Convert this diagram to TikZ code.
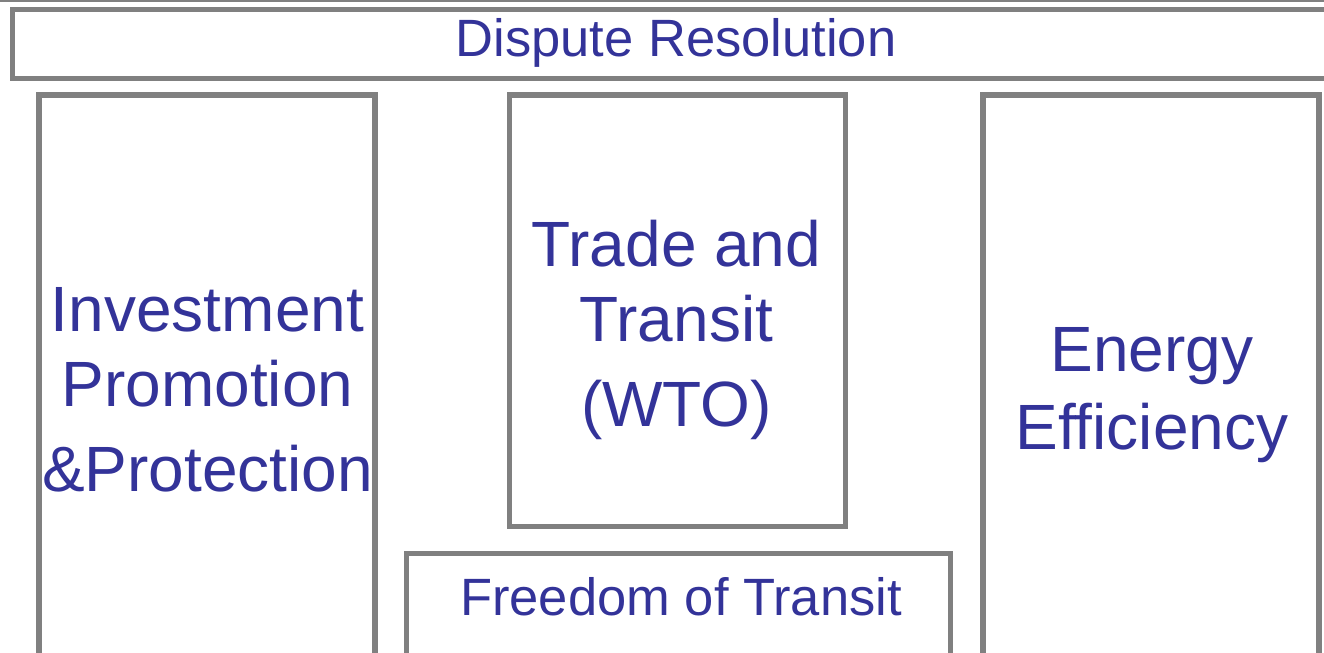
\documentclass[tikz,border=0pt]{standalone}
\usepackage{fontspec}
\setmainfont{Liberation Sans}
\definecolor{framegray}{HTML}{808080}
\definecolor{textblue}{HTML}{333399}
\begin{document}
\begin{tikzpicture}[x=1bp,y=-1bp,
  frame/.style={draw=framegray,line width=5.5bp},
  bigtext/.style={text=textblue,inner sep=0pt,anchor=base,font=\fontsize{64bp}{75bp}\selectfont},
  midtext/.style={text=textblue,inner sep=0pt,anchor=base,font=\fontsize{52.5bp}{60bp}\selectfont}]
  \clip (0,0) rectangle (1324,653);
  % edge of the frame above, mostly outside the page
  \draw[frame] (0,-1) -- (1324,-1);
  % boxes
  \draw[frame] (12.5,9.5) rectangle (1340,78.5);
  \draw[frame] (39,95) rectangle (375,680);
  \draw[frame] (509.5,95) rectangle (845.5,526.5);
  \draw[frame] (406.5,553.5) rectangle (950.5,680);
  \draw[frame] (983,95) rectangle (1319,680);
  % labels
  \node[midtext] (dispute) at (676,56.7) {Dispute Resolution};
  \node[midtext] (freedom) at (681,615) {Freedom of Transit};
  \node[bigtext] (inv1) at (207.5,331) {Investment};
  \node[bigtext] (inv2) at (207.5,406.7) {Promotion};
  \node[bigtext] (inv3) at (207.5,491) {\&Protection};
  \node[bigtext] (trade1) at (676.5,266.7) {Trade and};
  \node[bigtext] (trade2) at (676.5,341.7) {Transit};
  \node[bigtext] (trade3) at (676.5,426.7) {(WTO)};
  \node[bigtext] (energy1) at (1152,371.7) {Energy};
  \node[bigtext] (energy2) at (1152,449.3) {Efficiency};
\end{tikzpicture}
\end{document}
